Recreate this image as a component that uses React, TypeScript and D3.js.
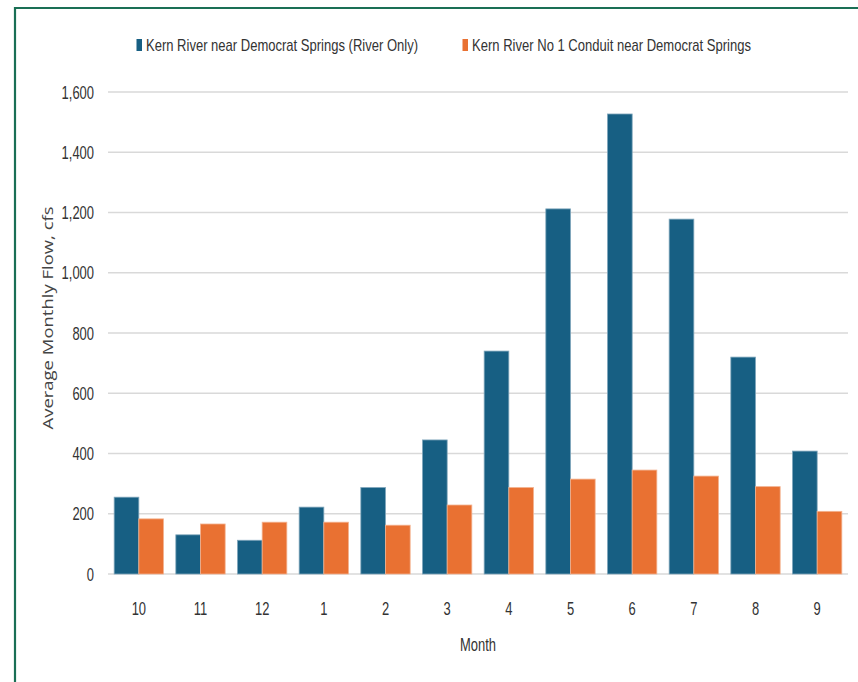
import React from "react";
import * as d3 from "d3";

const months = ["10", "11", "12", "1", "2", "3", "4", "5", "6", "7", "8", "9"];
const riverOnly = [255, 130, 112, 222, 287, 445, 740, 1212, 1527, 1178, 720, 408];
const conduit = [183, 166, 172, 172, 162, 229, 287, 315, 345, 325, 290, 208];
const seriesNames = [
  "Kern River near Democrat Springs (River Only)",
  "Kern River No 1 Conduit near Democrat Springs",
];
const yTicks = [0, 200, 400, 600, 800, 1000, 1200, 1400, 1600];

const W = 858;
const H = 682;
const COLORS = ["#175f83", "#e97132"];
const STROKES = ["#7fa6bb", "#f3b28f"];
const NARROW = "'Liberation Sans', Arial, sans-serif";
const SX = 0.72;

function NText(props: {
  x: number;
  y: number;
  anchor?: "start" | "middle" | "end";
  size?: number;
  children: React.ReactNode;
}) {
  const { x, y, anchor = "start", size = 18, children } = props;
  return (
    <text
      transform={`translate(${x},${y}) scale(${SX},1)`}
      textAnchor={anchor}
      fontFamily={NARROW}
      fontSize={size}
      fill="#333"
    >
      {children}
    </text>
  );
}

export default function App() {
  const x0 = d3.scaleBand<string>().domain(months).range([108, 848]).paddingInner(0.2).paddingOuter(0.1);
  const x1 = d3.scaleBand<number>().domain([0, 1]).range([0, x0.bandwidth()]);
  const y = d3.scaleLinear().domain([0, 1600]).range([574, 92]);
  const fmt = d3.format(",");
  const series = [riverOnly, conduit];
  const legendX = [136.5, 462.5];
  const legendW = [272, 279];

  return (
    <svg width={W} height={H} style={{ position: "absolute", left: 0, top: 0, background: "#fff" }}>
      <rect x={0} y={0} width={W} height={H} fill="#fff" />
      <line x1={15} x2={W} y1={8} y2={8} stroke="#1a6f55" strokeWidth={2.2} />
      <line x1={15} x2={15} y1={7} y2={H} stroke="#1a6f55" strokeWidth={2.2} />

      {yTicks.map((t) => (
        <g key={t}>
          <line x1={108} x2={848} y1={y(t)} y2={y(t)} stroke="#d9d9d9" strokeWidth={1.5} />
          <NText x={94} y={y(t) + 6.5} anchor="end">
            {fmt(t)}
          </NText>
        </g>
      ))}

      {months.map((m, i) => (
        <g key={m} transform={`translate(${x0(m)},0)`}>
          {series.map((s, k) => (
            <rect
              key={k}
              x={x1(k)}
              y={y(s[i])}
              width={x1.bandwidth()}
              height={y(0) - y(s[i])}
              fill={COLORS[k]}
              stroke={STROKES[k]}
              strokeWidth={0.8}
            />
          ))}
          <NText x={x0.bandwidth() / 2} y={614.5} anchor="middle">
            {m}
          </NText>
        </g>
      ))}

      <NText x={478} y={650.5} anchor="middle">
        Month
      </NText>
      <text
        transform={`translate(48,318) rotate(-90)`}
        dy="0.35em"
        textAnchor="middle"
        fontFamily="'Open Sans', 'Noto Sans', sans-serif"
        fontSize={14.5}
        fill="#444"
        textLength={223}
        lengthAdjust="spacingAndGlyphs"
      >
        Average Monthly Flow, cfs
      </text>

      {seriesNames.map((n, k) => {
        const lx = legendX[k];
        return (
          <g key={n}>
            <rect x={lx} y={39} width={5.5} height={12} fill={COLORS[k]} />
            <text
              x={lx + 9.5}
              y={51}
              fontFamily={NARROW}
              fontSize={17}
              fill="#333"
              textLength={legendW[k]}
              lengthAdjust="spacingAndGlyphs"
            >
              {n}
            </text>
          </g>
        );
      })}
    </svg>
  );
}
